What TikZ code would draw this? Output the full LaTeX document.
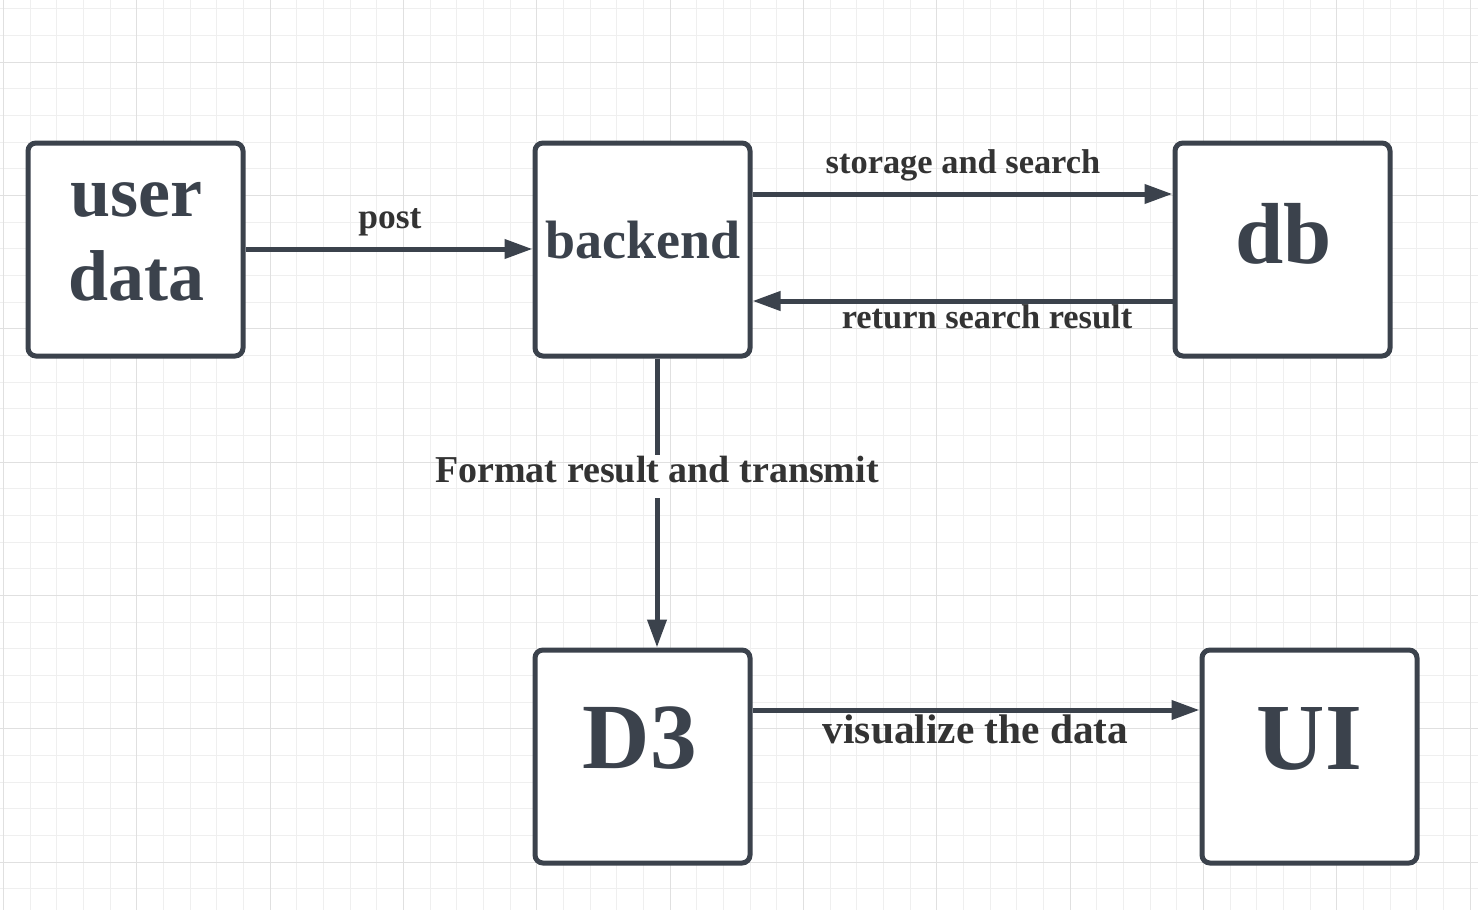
\documentclass[tikz,border=0pt]{standalone}
\usepackage{fontspec}
\setmainfont{Liberation Serif}
\usetikzlibrary{arrows.meta}
\definecolor{ink}{HTML}{3B424C}
\definecolor{lbl}{HTML}{333333}
\definecolor{gridminor}{HTML}{EFEFEF}
\definecolor{gridmajor}{HTML}{E0E0E0}
\begin{document}
\begin{tikzpicture}[x=0.75pt,y=-0.75pt,
  box/.style={draw=ink, line width=3.75pt, rounded corners=6pt, fill=white,
    minimum width=161.25pt, minimum height=159.75pt, inner sep=0pt},
  boxtext/.style={text=ink, anchor=base, inner sep=0pt},
  edgelabel/.style={text=lbl, anchor=base, inner sep=0pt},
  conn/.style={draw=ink, line width=3.75pt},
  arr/.style={conn, -{Triangle[length=21pt,width=14pt]}},
  fs/.style={font=\fontsize{#1}{#1}\selectfont\bfseries}]
\useasboundingbox (0,0) rectangle (1478,910);
\fill[white] (0,0) rectangle (1478,910);
% grid
\foreach \i in {0,...,55} \draw[gridminor, line width=0.75pt] ({3.333+26.667*\i},0) -- ({3.333+26.667*\i},910);
\foreach \j in {0,...,34} \draw[gridminor, line width=0.75pt] (0,{8.667+26.667*\j}) -- (1478,{8.667+26.667*\j});
\foreach \i in {0,...,11} \draw[gridmajor, line width=0.75pt] ({3.333+133.333*\i},0) -- ({3.333+133.333*\i},910);
\foreach \j in {0,...,6} \draw[gridmajor, line width=0.75pt] (0,{62+133.333*\j}) -- (1478,{62+133.333*\j});
% boxes
\node[box] (user) at (135.5,249.5) {};
\node[box] (backend) at (642.5,249.5) {};
\node[box] (db) at (1282.5,249.5) {};
\node[box] (d3) at (642.5,756.5) {};
\node[box] (ui) at (1309.5,756.5) {};
% box texts
\node[boxtext, fs=54] (usert1) at (136.7,216.7) {user};
\node[boxtext, fs=54] (usert2) at (136.7,300) {data};
\node[boxtext, fs=40.5] (backendt) at (643,258) {backend};
\node[boxtext, fs=65] (dbt) at (1283.5,263) {db};
\node[boxtext, fs=70] (d3t) at (640,768) {D3};
\node[boxtext, fs=71] (uit) at (1309.5,769) {UI};
% connectors
\coordinate (ypost) at (0,249);
\coordinate (ystore) at (0,194);
\coordinate (yret) at (0,301);
\coordinate (yvis) at (0,710);
\coordinate (gaptop) at (657,455);
\coordinate (gapbot) at (657,498);
\draw[arr] (user.east |- ypost) -- (backend.west |- ypost);
\draw[arr] (backend.east |- ystore) -- (db.west |- ystore);
\draw[arr] (db.west |- yret) -- (backend.east |- yret);
\draw[conn] (backend.south -| gaptop) -- (gaptop);
\draw[arr] (gapbot) -- (d3.north -| gapbot);
\draw[arr] (d3.east |- yvis) -- (ui.west |- yvis);
% labels
\node[edgelabel, fs=26.6] (lpost) at (390,228) {post};
\node[edgelabel, fs=25.8] (lstore) at (963,173) {storage and search};
\node[edgelabel, fs=25.8] (lret) at (987,328) {return search result};
\node[edgelabel, fs=28.5] (lfmt) at (657,482) {Format result and transmit};
\node[edgelabel, fs=31] (lvis) at (975.5,743) {visualize the data};
\end{tikzpicture}
\end{document}
